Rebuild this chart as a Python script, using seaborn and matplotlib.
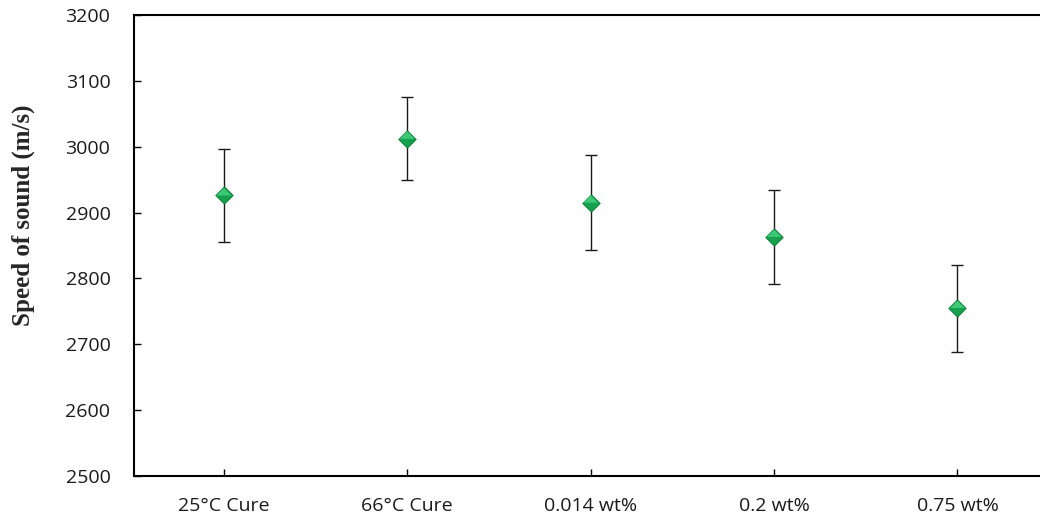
import matplotlib
matplotlib.use("Agg")
import matplotlib.pyplot as plt
from matplotlib.path import Path
import seaborn as sns
import pandas as pd

# Speed of sound measurements per sample condition (mean ± std)
categories = ["25°C Cure", "66°C Cure", "0.014 wt%", "0.2 wt%", "0.75 wt%"]
speed_mean = [2926, 3012, 2915, 2863, 2755]
speed_err = [71, 63, 72, 71, 66]
y_ticks = [2500, 2600, 2700, 2800, 2900, 3000, 3100, 3200]

df = pd.DataFrame({"condition": categories, "speed": speed_mean, "err": speed_err})

sns.set_theme(style="ticks")
plt.rcParams["font.family"] = ["Open Sans", "DejaVu Sans"]

fig = plt.figure(figsize=(10.4, 5.18), dpi=100)
ax = fig.add_axes([134 / 1040, 42 / 518, 1 - 134 / 1040, 461 / 518])

ax.errorbar(df["condition"], df["speed"], yerr=df["err"], fmt="none",
            ecolor="#1a1a1a", elinewidth=1.0, capsize=4, capthick=1.0, zorder=2)

# diamond body, with a lighter upper facet for a bevelled look
diamond_ms = 8.8
upper_half = Path([(-1, 0), (0, 1), (1, 0), (-1, 0)],
                  [Path.MOVETO, Path.LINETO, Path.LINETO, Path.CLOSEPOLY])
sns.scatterplot(data=df, x="condition", y="speed", marker="D", s=diamond_ms ** 2,
                color="#14a04c", edgecolor="#0e7f38", linewidth=0.7, zorder=3, ax=ax)
sns.scatterplot(data=df, x="condition", y="speed", marker=upper_half,
                s=(diamond_ms * 1.414 * 0.86) ** 2,
                color="#3cc874", edgecolor="none", linewidth=0, zorder=4, ax=ax)

ax.set_ylim(2500, 3200)
ax.set_xlim(-0.49, 4.45)
ax.set_yticks(y_ticks)
ax.set_yticklabels([str(v) for v in y_ticks])
ax.set_xlabel("")
ax.set_ylabel("")

ax.tick_params(axis="both", direction="in", length=5, width=1.0, colors="#000000",
               labelsize=14, labelcolor="#1a1a1a")
ax.tick_params(axis="y", pad=17)
ax.tick_params(axis="x", pad=15)
for side in ["left", "bottom", "top"]:
    ax.spines[side].set_color("#000000")
    ax.spines[side].set_linewidth(1.5)
ax.spines["right"].set_visible(False)

fig.text(0.022, 0.585, "Speed of sound (m/s)", rotation=90, ha="center", va="center",
         fontsize=18, fontweight="bold", family=["Liberation Serif", "DejaVu Serif"])

fig.savefig("out.png", dpi=100)
